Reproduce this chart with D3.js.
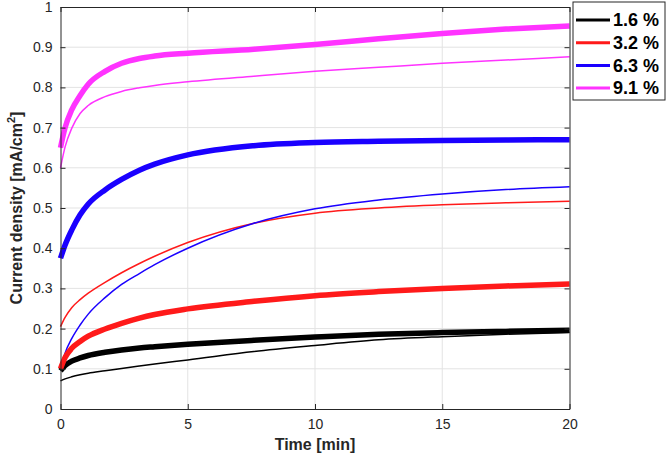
<!DOCTYPE html>
<meta charset="utf-8">
<script src="https://d3js.org/d3.v7.min.js"></script>
<style>
  body { margin: 0; background: #fff; }
  text { font-family: "Liberation Sans", Arial, sans-serif; }
</style>
<div id="chart"></div>
<script>
// sample times [min]
const times = [0, 0.18, 0.44, 0.77, 1.09, 1.75, 2.4, 3.1, 3.7, 5, 7.6, 10, 12.5, 15, 17.5, 20];

// current density [mA/cm2], thick and thin runs per concentration
const black_thick   = [0.095, 0.108, 0.119, 0.127, 0.133, 0.141, 0.147, 0.152, 0.155, 0.161, 0.171, 0.179, 0.186, 0.190, 0.193, 0.196];
const black_thin    = [0.070, 0.075, 0.080, 0.085, 0.089, 0.095, 0.101, 0.107, 0.112, 0.122, 0.143, 0.158, 0.172, 0.180, 0.186, 0.190];
const red_thick     = [0.100, 0.128, 0.151, 0.168, 0.181, 0.199, 0.213, 0.226, 0.235, 0.249, 0.268, 0.282, 0.292, 0.300, 0.306, 0.311];
const red_thin      = [0.205, 0.228, 0.252, 0.272, 0.288, 0.315, 0.339, 0.362, 0.380, 0.414, 0.462, 0.487, 0.500, 0.508, 0.513, 0.517];
const blue_thick    = [0.375, 0.408, 0.445, 0.483, 0.510, 0.545, 0.571, 0.594, 0.609, 0.632, 0.655, 0.663, 0.666, 0.668, 0.669, 0.670];
const blue_thin     = [0.100, 0.139, 0.175, 0.209, 0.236, 0.277, 0.310, 0.337, 0.359, 0.400, 0.462, 0.498, 0.520, 0.535, 0.546, 0.553];
const magenta_thick = [0.650, 0.700, 0.744, 0.780, 0.808, 0.840, 0.860, 0.872, 0.878, 0.885, 0.895, 0.907, 0.921, 0.934, 0.945, 0.953];
const magenta_thin  = [0.600, 0.652, 0.698, 0.735, 0.755, 0.777, 0.790, 0.799, 0.805, 0.814, 0.828, 0.840, 0.850, 0.860, 0.868, 0.876];

const legendLabels = ["1.6 %", "3.2 %", "6.3 %", "9.1 %"];
const colors = ["#000000", "#ff1a1a", "#1a00ff", "#ff33ff"];
const xTicks = [0, 5, 10, 15, 20];
const yTicks = [0, 0.1, 0.2, 0.3, 0.4, 0.5, 0.6, 0.7, 0.8, 0.9, 1];

const W = 666, H = 463;
const margin = {top: 7, left: 60.5},
    width = 509, height = 402;

const svg = d3.select("#chart").append("svg")
    .attr("width", W).attr("height", H);

const g = svg.append("g")
    .attr("transform", `translate(${margin.left},${margin.top})`);

const x = d3.scaleLinear().domain([0, 20]).range([0, width]);
const y = d3.scaleLinear().domain([0, 1]).range([height, 0]);

// grid
g.append("g").selectAll("line").data(xTicks.slice(1, -1)).join("line")
    .attr("x1", d => x(d)).attr("x2", d => x(d))
    .attr("y1", 0).attr("y2", height)
    .attr("stroke", "#e3e3e3").attr("stroke-width", 1);
g.append("g").selectAll("line").data(yTicks.slice(1, -1)).join("line")
    .attr("x1", 0).attr("x2", width)
    .attr("y1", d => y(d)).attr("y2", d => y(d))
    .attr("stroke", "#e3e3e3").attr("stroke-width", 1);

// curves
const line = d3.line()
    .x((d, i) => x(times[i]))
    .y(d => y(d))
    .curve(d3.curveMonotoneX);

const thin = [black_thin, red_thin, blue_thin, magenta_thin];
const thick = [black_thick, red_thick, blue_thick, magenta_thick];

thin.forEach((s, i) => {
  g.append("path").datum(s)
    .attr("fill", "none").attr("stroke", colors[i])
    .attr("stroke-width", 1.5).attr("d", line);
});
thick.forEach((s, i) => {
  g.append("path").datum(s)
    .attr("fill", "none").attr("stroke", colors[i])
    .attr("stroke-width", 5.5).attr("stroke-linejoin", "round").attr("d", line);
});

// axes (inward ticks, box on)
const axisColor = "#262626";
const xb = g.append("g").attr("transform", `translate(0,${height})`)
    .call(d3.axisBottom(x).tickValues(xTicks).tickSizeInner(-5).tickSizeOuter(0).tickPadding(10));
const xt = g.append("g")
    .call(d3.axisTop(x).tickValues(xTicks).tickSizeInner(-5).tickSizeOuter(0).tickFormat(""));
const yl = g.append("g")
    .call(d3.axisLeft(y).tickValues(yTicks).tickSizeInner(-5).tickSizeOuter(0).tickPadding(8).tickFormat(d3.format("~g")));
const yr = g.append("g").attr("transform", `translate(${width},0)`)
    .call(d3.axisRight(y).tickValues(yTicks).tickSizeInner(-5).tickSizeOuter(0).tickFormat(""));

[xb, xt, yl, yr].forEach(a => {
  a.selectAll("path, line").attr("stroke", axisColor);
  a.selectAll("text").attr("fill", axisColor).style("font-size", "14px");
});

// axis titles
svg.append("text")
    .attr("x", margin.left + width / 2).attr("y", 450)
    .attr("text-anchor", "middle")
    .style("font-size", "16px").style("font-weight", "bold").attr("fill", axisColor)
    .text("Time [min]");

const yt = svg.append("text")
    .attr("transform", `translate(22,${margin.top + height / 2}) rotate(-90)`)
    .attr("text-anchor", "middle")
    .style("font-size", "16px").style("font-weight", "bold").attr("fill", axisColor);
yt.append("tspan").text("Current density [mA/cm");
yt.append("tspan").attr("dy", -7).style("font-size", "11px").text("2");
yt.append("tspan").attr("dy", 7).text("]");

// legend
const lg = svg.append("g").attr("transform", "translate(573,2)");
lg.append("rect").attr("width", 92).attr("height", 98)
    .attr("fill", "#fff").attr("stroke", axisColor).attr("stroke-width", 1);
const rows = lg.selectAll("g").data(legendLabels).join("g")
    .attr("transform", (d, i) => `translate(0,${18 + i * 22.7})`);
rows.append("line").attr("x1", 3).attr("x2", 37)
    .attr("stroke", (d, i) => colors[i]).attr("stroke-width", 3);
rows.append("text").attr("x", 40).attr("dy", "0.35em")
    .style("font-size", "18px").style("font-weight", "bold").attr("fill", "#000")
    .text(d => d);
</script>
